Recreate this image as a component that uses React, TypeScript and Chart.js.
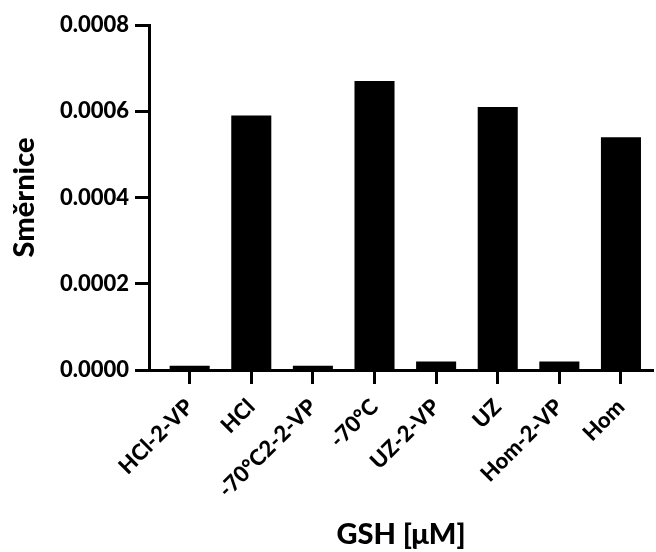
import React, { useEffect, useRef } from "react";
import { Chart, registerables } from "chart.js";

Chart.register(...registerables);

const categories = ["HCl-2-VP", "HCl", "-70°C2-2-VP", "-70°C", "UZ-2-VP", "UZ", "Hom-2-VP", "Hom"];
const values = [0.00001, 0.00059, 0.00001, 0.00067, 0.00002, 0.00061, 0.00002, 0.00054];
const yTicks = [0, 0.0002, 0.0004, 0.0006, 0.0008];
const yTitle = "Směrnice";
const xTitle = "GSH [μM]";

const FONT = "Lato";

export default function App() {
  const ref = useRef<HTMLCanvasElement | null>(null);
  useEffect(() => {
    if (!ref.current) return;
    const chart = new Chart(ref.current, {
      type: "bar",
      data: {
        datasets: [
          {
            data: values.map((v, i) => ({ x: i, y: v })),
            backgroundColor: "#000000",
            borderWidth: 0,
            categoryPercentage: 1,
            barPercentage: 0.65,
          },
        ],
      },
      options: {
        responsive: false,
        animation: false,
        layout: { padding: { top: 25, right: 3, left: 0, bottom: 0 } },
        plugins: { legend: { display: false }, tooltip: { enabled: false } },
        scales: {
          x: {
            type: "linear",
            min: -0.66,
            max: 7.52,
            offset: false,
            afterBuildTicks: (scale: any) => {
              scale.ticks = categories.map((_, i) => ({ value: i }));
            },
            afterFit: (scale: any) => {
              scale.height = 182;
            },
            ticks: {
              callback: (v: any) => categories[Math.round(Number(v))] ?? "",
              minRotation: 45,
              maxRotation: 45,
              autoSkip: false,
              color: "#000",
              padding: 10,
              font: { family: FONT, weight: "900", size: 22 },
            },
            grid: {
              offset: false,
              drawOnChartArea: false,
              drawTicks: true,
              tickLength: 14,
              tickWidth: 3,
              tickColor: "#000",
              color: "#000",
            },
            border: { display: true, color: "#000", width: 3 },
            title: {
              display: true,
              text: xTitle,
              color: "#000",
              font: { family: FONT, weight: "900", size: 29 },
              padding: { top: 0, bottom: 0 },
            },
          },
          y: {
            type: "linear",
            min: 0,
            max: 0.0008,
            afterBuildTicks: (scale: any) => {
              scale.ticks = yTicks.map((v) => ({ value: v }));
            },
            afterFit: (scale: any) => {
              scale.width = 149;
            },
            ticks: {
              callback: (v: any) => Number(v).toFixed(4),
              color: "#000",
              padding: 6,
              font: { family: FONT, weight: "900", size: 22 },
            },
            grid: {
              drawOnChartArea: false,
              drawTicks: true,
              tickLength: 14,
              tickWidth: 3,
              tickColor: "#000",
              color: "#000",
            },
            border: { display: true, color: "#000", width: 3 },
            title: {
              display: true,
              text: yTitle,
              color: "#000",
              font: { family: FONT, weight: "900", size: 29 },
              padding: { top: 7, bottom: 0 },
            },
          },
        },
      },
    });
    return () => chart.destroy();
  }, []);
  return (
    <div style={{ position: "absolute", left: 0, top: 0, width: 656, height: 552, background: "#fff" }}>
      <canvas ref={ref} width={656} height={552} style={{ display: "block" }} />
    </div>
  );
}
